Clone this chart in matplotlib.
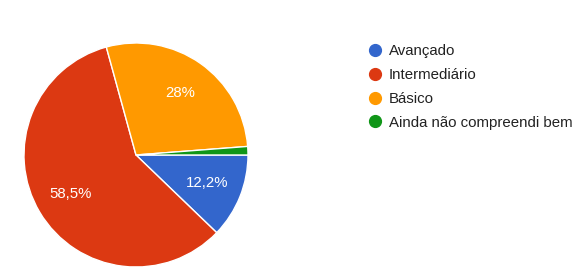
import matplotlib.pyplot as plt
from matplotlib.lines import Line2D

# answers (82 responses)
categories = ["Avançado", "Intermediário", "Básico", "Ainda não compreendi bem"]
counts = [10, 48, 23, 1]
colors = ["#3366cc", "#dc3912", "#ff9900", "#109618"]

plt.rcParams["font.family"] = ["Liberation Sans", "DejaVu Sans"]

fig = plt.figure(figsize=(5.76, 2.73), dpi=100)
ax = fig.add_axes([24 / 576, 6 / 273, 224 / 576, 224 / 273])


def fmt_pct(p):
    # google forms style: comma decimal, hide tiny slices
    if p < 5:
        return ""
    s = f"{p:.1f}".replace(".", ",")
    if s.endswith(",0"):
        s = s[:-2]
    return s + "%"


wedges, texts, autotexts = ax.pie(
    counts, colors=colors, startangle=0, counterclock=False,
    autopct=fmt_pct, pctdistance=0.68, radius=1,
    wedgeprops=dict(edgecolor="white", linewidth=1),
    textprops=dict(color="white", fontsize=10.8),
)
ax.set_xlim(-1, 1)
ax.set_ylim(-1, 1)
ax.set_aspect("equal")

handles = [Line2D([], [], marker="o", linestyle="", markersize=8.5,
                  markerfacecolor=c, markeredgecolor=c) for c in colors]
fig.legend(handles, categories, loc="upper left",
           bbox_to_anchor=(369 / 576, 1 - 44 / 273), frameon=False,
           fontsize=10.8, labelcolor="#222222", handlelength=0.8,
           handletextpad=0.53, labelspacing=0.66, borderpad=0, borderaxespad=0)

fig.savefig("out.png", dpi=100)
